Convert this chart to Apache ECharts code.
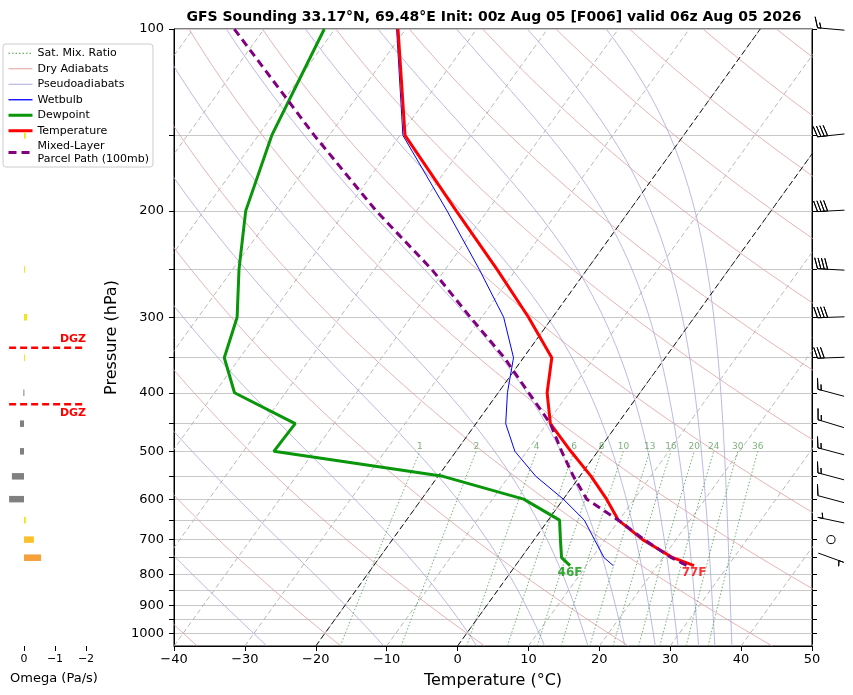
<!DOCTYPE html>
<html><head><meta charset="utf-8">
<script src="https://cdn.jsdelivr.net/npm/echarts@6/dist/echarts.min.js"></script>
<style>html,body{margin:0;padding:0;background:#fff}#chart{width:853px;height:695px}</style>
</head><body><div id="chart"></div>
<script>
// ---------------- data ----------------
const tempPressure = [773, 750, 700, 650, 600, 550, 500, 450, 400, 350, 300, 250, 200, 150, 100];
const temperature  = [25.2, 21.4, 15.3, 9.9, 6.1, 1.6, -3.8, -9.5, -13.1, -16.0, -23.4, -32.7, -44.4, -59.3, -71.1];
const dewpoint     = [7.7, 5.7, 3.7, 1.6, -5.6, -19.3, -45.7, -45.5, -57.2, -62.2, -64.5, -69.1, -74.1, -78.1, -81.5];
const wetbulb      = [13.8, 11.7, 8.5, 5.1, 0.0, -6.2, -11.7, -15.8, -18.7, -21.4, -26.9, -35.2, -45.7, -59.6, -71.3];
const parcelPressure = [772, 750, 700, 650, 600, 550, 500, 450, 400, 350, 300, 250, 200, 150, 100];
const parcelTemp     = [24.1, 21.2, 15.5, 9.9, 3.3, -0.9, -5.1, -9.5, -15.7, -22.7, -31.6, -41.9, -55.7, -72.1, -94.2];
const omegaPressure = [150, 250, 300, 350, 400, 450, 500, 550, 600, 650, 700, 750];
const omegaValue    = [-0.06, -0.03, -0.1, -0.02, 0.02, 0.13, 0.13, 0.39, 0.48, -0.06, -0.32, -0.55];
const windPressure = [100, 150, 200, 250, 300, 350, 400, 450, 500, 550, 600, 650, 700, 750];
const windSpeed    = [15, 40, 40, 40, 40, 30, 15, 15, 15, 15, 10, 5, 0, 5];
const windDir      = [275, 264, 267, 273, 268, 268, 285, 287, 285, 285, 285, 282, 0, 110];
const dgzPressure = [337, 418];
const mixingRatios = [1, 2, 4, 6, 8, 10, 13, 16, 20, 24, 30, 36];
const isotherms = [-100, -90, -80, -70, -60, -50, -40, -30, -20, -10, 0, 10, 20, 30, 40, 50];
const markedIsotherms = [-20, 0];
const dryThetaC = [-40, -20, 0, 20, 40, 60, 80, 100, 120, 140, 160, 180, 200, 220, 240, 260];
const moistStartT = [-26.9, -10.4, 2.7, 12.3, 18.4, 23.6, 27.9, 31.1, 34.0, 36.3, 38.7]; // °C at 1050 hPa
const pressureTicks = [100,150,200,250,300,350,400,450,500,550,600,650,700,750,800,850,900,950,1000];
const pressureLabels = [100,200,300,400,500,600,700,800,900,1000];
const omegaTicks = [0, -1, -2];
const titleText = 'GFS Sounding 33.17°N, 69.48°E Init: 00z Aug 05 [F006] valid 06z Aug 05 2026';

// ---------------- skew-T helpers ----------------
const PB = 1050, PT = 100, SKEW = 61.4;
const Y = p => Math.log10(p);
const X = (t, p) => t + SKEW * Math.log10(PB / p);
const GAP = ['-', '-'];
const curveP = [];
for (let i = 0; i <= 90; i++) curveP.push(PB * Math.pow(PT / PB, i / 90));
const mixP = curveP.filter(p => p > 500).concat([500]);

function esK(tk) { return 6.112 * Math.exp(17.67 * (tk - 273.15) / (tk - 29.65)); }
const Rd = 287.04749, Cpd = 1004.6662, Lv = 2.50084e6, EPS = 0.6219569;
function moistDTdP(p, tk) {
  const e = esK(tk);
  const rs = e < p ? EPS * e / (p - e) : 0;
  return (1 / p) * (Rd * tk + Lv * rs) / (Cpd + (Lv * Lv * rs * EPS) / (Rd * tk * tk));
}
function moistLine(t0c) {
  const out = [];
  let tk = t0c + 273.15;
  out.push([X(tk - 273.15, curveP[0]), Y(curveP[0])]);
  for (let i = 1; i < curveP.length; i++) {
    const p0 = curveP[i - 1], p1 = curveP[i], n = 8, h = (p1 - p0) / n;
    let p = p0;
    for (let k = 0; k < n; k++) {
      const k1 = moistDTdP(p, tk), k2 = moistDTdP(p + h / 2, tk + h * k1 / 2);
      const k3 = moistDTdP(p + h / 2, tk + h * k2 / 2), k4 = moistDTdP(p + h, tk + h * k3);
      tk += h * (k1 + 2 * k2 + 2 * k3 + k4) / 6; p += h;
    }
    out.push([X(tk - 273.15, p1), Y(p1)]);
  }
  return out;
}
function dryT(thC, p) { return (thC + 273.15) * Math.pow(p / 1000, 0.2857) - 273.15; }
function mixTd(w, p) { const e = p * w / (622 + w); const l = Math.log(e / 6.112); return 243.5 * l / (17.67 - l); }
function curves(list, fn, plist) {
  const out = [];
  list.forEach(c => { plist.forEach(p => { const t = fn(c, p); if (t !== null && isFinite(t)) out.push([X(t, p), Y(p)]); }); out.push(GAP); });
  return out;
}
const isoData = []; isotherms.forEach(c => { isoData.push([X(c, PB), Y(PB)], [X(c, PT), Y(PT)], GAP); });
const markedIsoData = []; markedIsotherms.forEach(c => { markedIsoData.push([X(c, PB), Y(PB)], [X(c, PT), Y(PT)], GAP); });
const dryData = curves(dryThetaC, dryT, curveP);
const moistData = []; moistStartT.forEach(t => { moistLine(t).forEach(pt => moistData.push(pt)); moistData.push(GAP); });
const mixData = curves(mixingRatios, mixTd, mixP);
const mixLabelData = mixingRatios.map(w => [X(mixTd(w, 500), 500), Y(500), w]);
const prof = (P, T) => P.map((p, i) => [X(T[i], p), Y(p)]);
const toF = t => Math.round(t * 9 / 5 + 32) + 'F';

function omegaColor(v) {
  if (v >= 0) return '#808080';
  if (v > -0.15) return '#f4e41c';
  if (v > -0.45) return '#fcc02c';
  return '#f6a03a';
}
function renderBarb(params, api) {
  const c = api.coord([api.value(0), api.value(1)]);
  const ax = c[0] + 19, ay = c[1];
  const spd = api.value(2), dir = api.value(3);
  const L = 27;
  if (spd < 2.5) return { type: 'circle', shape: { cx: ax, cy: ay, r: 0.15 * L }, style: { fill: null, stroke: '#000', lineWidth: 1 } };
  let s = Math.round(spd / 5) * 5;
  const nflag = Math.floor(s / 50); s -= nflag * 50;
  const nfull = Math.floor(s / 10); s -= nfull * 10;
  const half = s >= 5;
  const sp = 0.125 * L, h = 0.4 * L, w = 0.25 * L, endy = -L / 2;
  const verts = [[0, endy]];
  let off = L;
  for (let i = 0; i < nflag; i++) {
    if (off !== L) off += sp / 2;
    verts.push([0, endy + off], [h, endy - w / 2 + off], [0, endy - w + off]);
    off -= w + sp;
  }
  for (let i = 0; i < nfull; i++) { verts.push([0, endy + off], [h, endy + off + w / 2], [0, endy + off]); off -= sp; }
  if (half) {
    if (off === L) { verts.push([0, endy + off]); off -= 1.5 * sp; }
    verts.push([0, endy + off], [h / 2, endy + off + w / 4], [0, endy + off]);
  }
  const d = dir * Math.PI / 180;
  const u = -spd * Math.sin(d), v = -spd * Math.cos(d);
  const rot = Math.atan2(v, u) + Math.PI / 2;
  const cs = Math.cos(rot), sn = Math.sin(rot);
  const pts = verts.map(([x, y]) => [ax + x * cs - y * sn, ay - (x * sn + y * cs)]);
  return { type: 'polyline', shape: { points: pts }, style: { stroke: '#000', lineWidth: 1, fill: null } };
}
function renderOmega(params, api) {
  const v = api.value(0), y = api.value(1);
  const a = api.coord([0, y]), b = api.coord([v, y]);
  const hgt = 6.5;
  return { type: 'rect', shape: { x: Math.min(a[0], b[0]), y: a[1] - hgt / 2, width: Math.max(Math.abs(b[0] - a[0]), 1), height: hgt },
    style: { fill: omegaColor(v) } };
}
function renderDGZ(params, api) {
  const y = api.value(1);
  const a = api.coord([0.48, y]), b = api.coord([-1.97, y]);
  const above = api.value(2) === 0;
  return { type: 'group', children: [
    { type: 'line', shape: { x1: a[0], y1: a[1], x2: b[0], y2: b[1] }, style: { stroke: '#ff0000', lineWidth: 2.5, lineDash: [7, 4] } },
    { type: 'text', x: b[0] + 1, y: above ? a[1] - 3 : a[1] + 3,
      style: { text: 'DGZ', fill: '#ff0000', font: 'bold 11px "DejaVu Sans"', align: 'right', verticalAlign: above ? 'bottom' : 'top' } }
  ] };
}

const minusFmt = v => (v < 0 ? '\u2212' + Math.abs(v) : String(v));
const yTicks = pressureTicks.map(Y);
const yLabels = pressureLabels.map(Y);
const font = 'DejaVu Sans';
const sfcT = temperature[0], sfcTd = dewpoint[0], sfcP = tempPressure[0];
const clear = 'rgba(0,0,0,0)';

const chart = echarts.init(document.getElementById('chart'), null, { renderer: 'canvas' });
chart.setOption({
  animation: false,
  backgroundColor: '#fff',
  textStyle: { fontFamily: font },
  title: { text: titleText, left: 489, top: 5, textAlign: 'center',
    textStyle: { fontFamily: font, fontSize: 14, fontWeight: 'bold', color: '#000' } },
  legend: {
    orient: 'vertical', left: 3, top: 44, padding: [3, 4, 2, 4], itemGap: 3, itemWidth: 24, itemHeight: 10,
    backgroundColor: 'rgba(255,255,255,0.85)', borderColor: '#cccccc', borderWidth: 1, borderRadius: 3,
    itemStyle: { opacity: 0, borderWidth: 0 },
    selectedMode: false, textStyle: { fontFamily: font, fontSize: 11, lineHeight: 12.5, color: '#000' },
    data: [
      { name: 'Sat. Mix. Ratio', lineStyle: { width: 1, color: '#3f9a3f', type: [1.5, 2] } },
      { name: 'Dry Adiabats', lineStyle: { width: 1, color: '#e2a0a0' } },
      { name: 'Pseudoadiabats', lineStyle: { width: 1, color: '#a8a8e0' } },
      { name: 'Wetbulb', lineStyle: { width: 1.3, color: '#0000ff' } },
      { name: 'Dewpoint', lineStyle: { width: 3, color: '#0a960a' } },
      { name: 'Temperature', lineStyle: { width: 3, color: '#ff0000' } },
      { name: 'Mixed-Layer\nParcel Path (100mb)', lineStyle: { width: 3, color: '#800080', type: [8, 5] } }
    ]
  },
  grid: [
    { left: 174, right: 41, top: 29, bottom: 49, show: true, borderColor: '#000', borderWidth: 1, backgroundColor: 'transparent' },
    { left: 8, width: 92, top: 29, bottom: 49 }
  ],
  xAxis: [
    { type: 'value', gridIndex: 0, min: -40, max: 50, interval: 10,
      name: 'Temperature (°C)', nameLocation: 'middle', nameGap: 27, nameTextStyle: { fontSize: 16, color: '#000', fontFamily: font },
      axisLine: { show: true, onZero: false, lineStyle: { color: '#000' } }, axisTick: { show: true, length: 5, lineStyle: { color: '#000' } },
      axisLabel: { fontSize: 13, color: '#000', margin: 7, formatter: minusFmt }, splitLine: { show: false } },
    { type: 'value', gridIndex: 1, min: -2.452, max: 0.516, inverse: true,
      name: 'Omega (Pa/s)', nameLocation: 'middle', nameGap: 26, nameTextStyle: { fontSize: 13, color: '#000', fontFamily: font },
      axisLine: { show: false, onZero: false }, axisTick: { show: true, length: 5, customValues: omegaTicks, lineStyle: { color: '#000' } },
      axisLabel: { fontSize: 11, color: '#000', margin: 8, customValues: omegaTicks, formatter: minusFmt }, splitLine: { show: false } }
  ],
  yAxis: [
    { type: 'value', gridIndex: 0, min: 2, max: Math.log10(PB), inverse: true, position: 'left',
      name: 'Pressure (hPa)', nameLocation: 'middle', nameGap: 50, nameRotate: 90, nameTextStyle: { fontSize: 16, color: '#000', fontFamily: font },
      axisLine: { show: true, onZero: false, lineStyle: { color: '#000' } },
      axisTick: { show: true, length: 5, customValues: yTicks, lineStyle: { color: '#000' } },
      axisLabel: { fontSize: 13, color: '#000', margin: 10, customValues: yLabels, formatter: v => String(Math.round(Math.pow(10, v))) },
      splitLine: { show: true, lineStyle: { color: '#c8c8c8', width: 1 } } },
    { type: 'value', gridIndex: 0, min: 2, max: Math.log10(PB), inverse: true, position: 'right',
      axisLine: { show: true, onZero: false, lineStyle: { color: '#000' } },
      axisTick: { show: true, length: 5, customValues: yTicks, lineStyle: { color: '#000' } },
      axisLabel: { show: false }, splitLine: { show: false } },
    { type: 'value', gridIndex: 1, min: 2, max: Math.log10(PB), inverse: true, show: false }
  ],
  series: [
    { name: 'isotherms', type: 'line', xAxisIndex: 0, yAxisIndex: 0, data: isoData, symbol: 'none', silent: true, z: 1,
      lineStyle: { color: '#b0b0b0', width: 0.9, type: [5, 3] } },
    { name: 'Dry Adiabats', type: 'line', xAxisIndex: 0, yAxisIndex: 0, data: dryData, symbol: 'none', silent: true, z: 1,
      itemStyle: { color: '#e2a0a0' }, lineStyle: { color: '#e2a0a0', width: 0.8 } },
    { name: 'Pseudoadiabats', type: 'line', xAxisIndex: 0, yAxisIndex: 0, data: moistData, symbol: 'none', silent: true, z: 1,
      itemStyle: { color: '#a8a8e0' }, lineStyle: { color: '#a8a8e0', width: 0.8 } },
    { name: 'Sat. Mix. Ratio', type: 'line', xAxisIndex: 0, yAxisIndex: 0, data: mixData, symbol: 'none', silent: true, z: 1,
      itemStyle: { color: '#4f9a4f' }, lineStyle: { color: '#4f9a4f', width: 0.8, type: [1.5, 2] } },
    { name: 'mixlabels', type: 'scatter', xAxisIndex: 0, yAxisIndex: 0, data: mixLabelData, symbolSize: 1, itemStyle: { color: clear }, silent: true, z: 2,
      label: { show: true, position: 'top', distance: 0, fontSize: 9, color: '#5a9e5a', fontFamily: font, formatter: p => String(p.value[2]) } },
    { name: 'marked', type: 'line', xAxisIndex: 0, yAxisIndex: 0, data: markedIsoData, symbol: 'none', silent: true, z: 2,
      lineStyle: { color: '#000', width: 0.9, type: [6, 3] } },
    { name: 'Wetbulb', type: 'line', xAxisIndex: 0, yAxisIndex: 0, data: prof(tempPressure, wetbulb), symbol: 'none', z: 3,
      itemStyle: { color: '#0000ff' }, lineStyle: { color: '#0000ff', width: 1 } },
    { name: 'Dewpoint', type: 'line', xAxisIndex: 0, yAxisIndex: 0, data: prof(tempPressure, dewpoint), symbol: 'none', z: 4,
      itemStyle: { color: '#0a960a' }, lineStyle: { color: '#0a960a', width: 3 } },
    { name: 'Temperature', type: 'line', xAxisIndex: 0, yAxisIndex: 0, data: prof(tempPressure, temperature), symbol: 'none', z: 4,
      itemStyle: { color: '#ff0000' }, lineStyle: { color: '#ff0000', width: 3 } },
    { name: 'Mixed-Layer\nParcel Path (100mb)', type: 'line', xAxisIndex: 0, yAxisIndex: 0, data: prof(parcelPressure, parcelTemp), symbol: 'none', z: 5,
      itemStyle: { color: '#800080' }, lineStyle: { color: '#800080', width: 3, type: [8, 5] } },
    { name: 'sfclabels', type: 'scatter', xAxisIndex: 0, yAxisIndex: 0, symbolSize: 1, itemStyle: { color: clear }, silent: true, z: 6,
      data: [
        { value: [X(sfcTd, sfcP), Y(sfcP), sfcTd], label: { color: '#0a960a' } },
        { value: [X(sfcT, sfcP), Y(sfcP), sfcT], label: { color: '#ff0000' } }
      ],
      label: { show: true, position: 'bottom', distance: 1, fontSize: 12, fontWeight: 'bold', fontFamily: font, formatter: p => toF(p.value[2]) } },
    { name: 'barbs', type: 'custom', xAxisIndex: 0, yAxisIndex: 0, renderItem: renderBarb, encode: { x: 0, y: 1 }, silent: true, z: 6,
      data: windPressure.map((p, i) => [50, Y(p), windSpeed[i], windDir[i]]) },
    { name: 'omega', type: 'custom', xAxisIndex: 1, yAxisIndex: 2, renderItem: renderOmega, encode: { x: 0, y: 1 }, silent: true, z: 10,
      data: omegaPressure.map((p, i) => [omegaValue[i], Y(p)]) },
    { name: 'dgz', type: 'custom', xAxisIndex: 1, yAxisIndex: 2, renderItem: renderDGZ, encode: { x: 0, y: 1 }, silent: true, z: 6,
      data: dgzPressure.map(p => [0, Y(p), p === Math.min(...dgzPressure) ? 0 : 1]) }
  ]
});
</script>
</body></html>
